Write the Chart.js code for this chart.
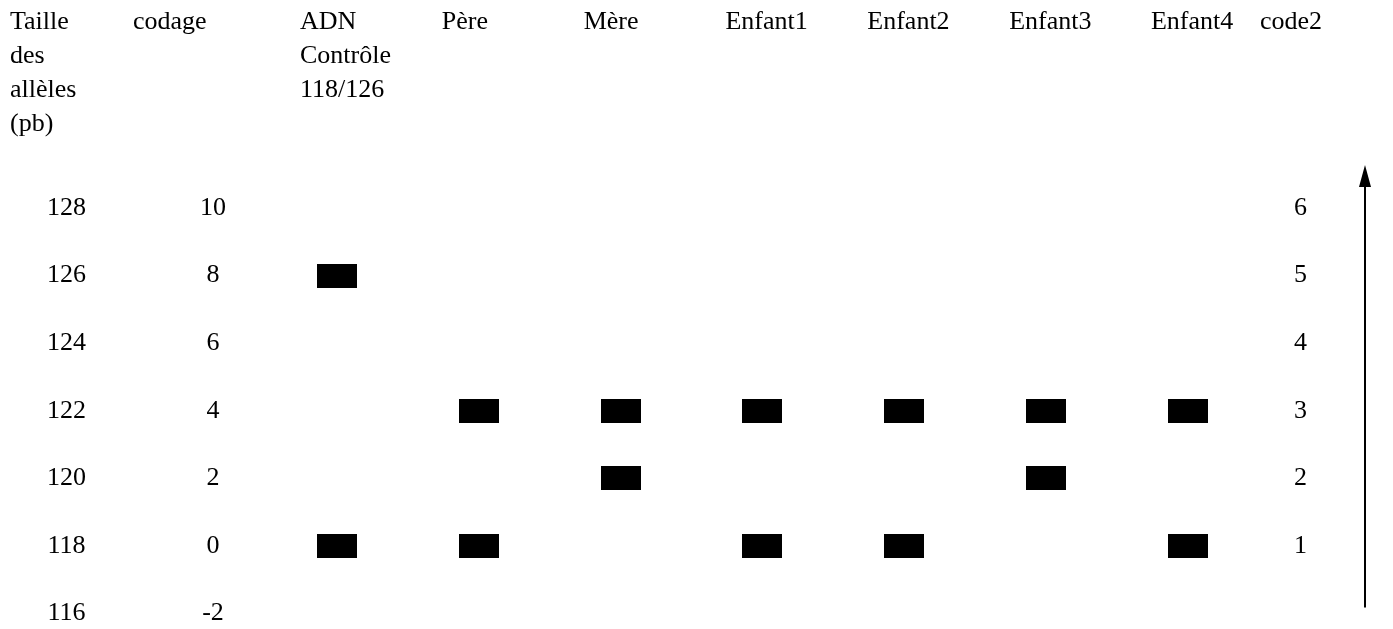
<!DOCTYPE html>
<html>
<head>
<meta charset="utf-8">
<script src="https://cdn.jsdelivr.net/npm/chart.js@4.4.1/dist/chart.umd.min.js"></script>
<style>
  html, body { margin: 0; padding: 0; background: #fff; }
  #wrap { width: 1393px; height: 629px; position: relative; }
</style>
</head>
<body>
<div id="wrap"><canvas id="c"></canvas></div>
<script>
// ---- data ----
const lanes = [['ADN', 'Contrôle', '118/126'], ['Père'], ['Mère'], ['Enfant1'], ['Enfant2'], ['Enfant3'], ['Enfant4']];
const alleleSizes = [128, 126, 124, 122, 120, 118, 116];
const codage = [10, 8, 6, 4, 2, 0, -2];
const code2 = [6, 5, 4, 3, 2, 1];
const sizeTitle = ['Taille', 'des', 'allèles', '(pb)'];
const codageTitle = ['codage'];
const code2Title = ['code2'];
// allele sizes of the bands seen in each lane
const bandSizes = [[118, 126], [118, 122], [120, 122], [118, 122], [118, 122], [120, 122], [118, 122]];

// ---- chart ----
const FONT = '"Liberation Serif", "Times New Roman", serif';
const fontObj = { family: FONT, size: 26 };

const bandImg = document.createElement('canvas');
bandImg.width = 40; bandImg.height = 24;
const bctx = bandImg.getContext('2d');
bctx.fillStyle = '#000';
bctx.fillRect(0, 0, 40, 24);

const points = [];
bandSizes.forEach((sizes, lane) => sizes.forEach(s => points.push({ x: lane, y: s })));

const headerPlugin = {
  id: 'header',
  afterDraw(chart) {
    const ctx = chart.ctx;
    const xs = chart.scales.x;
    const ys = chart.scales.y;
    const yc = chart.scales.yCod;
    const y2 = chart.scales.yCode2;
    const lh = 34;
    const y0 = 22;
    ctx.save();
    ctx.font = '26px ' + FONT;
    ctx.fillStyle = '#000';
    ctx.textBaseline = 'middle';
    ctx.textAlign = 'left';
    lanes.forEach((lines, i) => {
      const px = xs.getPixelForValue(i) - 37;
      lines.forEach((t, j) => ctx.fillText(t, px, y0 + j * lh));
    });
    sizeTitle.forEach((t, j) => ctx.fillText(t, ys.left + 10, y0 + j * lh));
    codageTitle.forEach((t, j) => ctx.fillText(t, yc.left + 39, y0 + j * lh));
    code2Title.forEach((t, j) => ctx.fillText(t, y2.left - 26, y0 + j * lh));
    // arrow along the code2 axis
    const ax = y2.right - 28;
    const yBottom = chart.chartArea.bottom - 6;
    const yTip = chart.chartArea.top - 43;
    ctx.strokeStyle = '#000';
    ctx.lineWidth = 2;
    ctx.beginPath();
    ctx.moveTo(ax, yBottom);
    ctx.lineTo(ax, yTip + 18);
    ctx.stroke();
    ctx.beginPath();
    ctx.moveTo(ax, yTip);
    ctx.lineTo(ax - 6, yTip + 22);
    ctx.lineTo(ax + 6, yTip + 22);
    ctx.closePath();
    ctx.fill();
    ctx.restore();
  }
};

const commonAxis = {
  type: 'linear',
  grid: { display: false },
  border: { display: false },
};

new Chart(document.getElementById('c'), {
  type: 'scatter',
  data: {
    datasets: [{
      data: points,
      pointStyle: bandImg,
      pointRadius: 12,
      pointHoverRadius: 12,
      clip: false
    }]
  },
  options: {
    responsive: true,
    maintainAspectRatio: false,
    animation: false,
    events: [],
    layout: { padding: { top: 208, bottom: 13, left: 0, right: 0 } },
    plugins: { legend: { display: false }, tooltip: { enabled: false } },
    scales: {
      x: { type: 'linear', display: false, min: -0.726, max: 6.691 },
      y: Object.assign({}, commonAxis, {
        position: 'left', weight: 2, min: 116, max: 128,
        afterBuildTicks: s => { s.ticks = alleleSizes.map(v => ({ value: v })); },
        afterFit: s => { s.width = 94; },
        ticks: { font: fontObj, color: '#000', crossAlign: 'center', padding: 0, callback: v => String(v) }
      }),
      yCod: Object.assign({}, commonAxis, {
        position: 'left', weight: 1, min: -2, max: 10,
        afterBuildTicks: s => { s.ticks = codage.map(v => ({ value: v })); },
        afterFit: s => { s.width = 140; },
        ticks: { font: fontObj, color: '#000', crossAlign: 'center', padding: 0, callback: v => String(v) }
      }),
      yCode2: Object.assign({}, commonAxis, {
        position: 'right', weight: 1, min: 0, max: 6,
        afterBuildTicks: s => { s.ticks = code2.map(v => ({ value: v })); },
        afterFit: s => { s.width = 107; },
        ticks: { font: fontObj, color: '#000', crossAlign: 'center', padding: 0, callback: v => String(v) }
      })
    }
  },
  plugins: [headerPlugin]
});
</script>
</body>
</html>
